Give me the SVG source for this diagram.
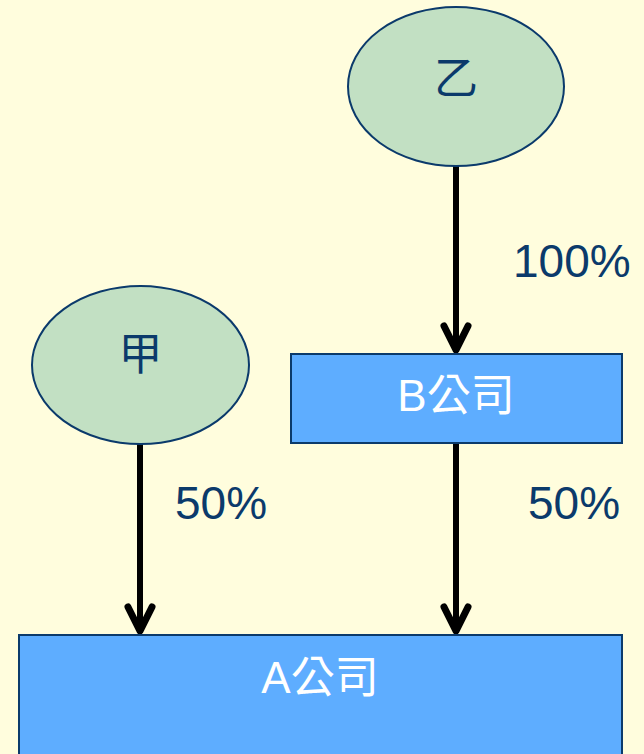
<svg xmlns="http://www.w3.org/2000/svg" width="644" height="754" viewBox="0 0 644 754">
<style>
.ell{fill:#C2E0C3;stroke:#0B3A6B;stroke-width:2}
.box{fill:#5EADFF;stroke:#0B3A6B;stroke-width:2}
.lbl{font-family:"Liberation Sans","Noto Sans CJK TC",sans-serif;font-size:44px;text-anchor:middle}
.dark{fill:#0B3A6B}
.white{fill:#FFFFFF}
.pct{font-family:"Liberation Sans",sans-serif;font-size:46px;fill:#0B3A6B}
.con{stroke:#000;stroke-width:6;fill:none}
</style>
<defs>
<marker id="arr" markerUnits="userSpaceOnUse" markerWidth="50" markerHeight="50" viewBox="-40 -25 50 50" refX="0" refY="0" orient="auto">
<path d="M-26,-12 L-2,0 L-26,12" fill="none" stroke="#000" stroke-width="7" stroke-linecap="round" stroke-linejoin="round"/>
</marker>
</defs>
<rect width="644" height="754" fill="#FFFDDD"/>
<g id="connectors">
<line class="con" x1="456" y1="166" x2="456" y2="352" marker-end="url(#arr)"/>
<line class="con" x1="140" y1="444" x2="140" y2="633" marker-end="url(#arr)"/>
<line class="con" x1="456" y1="443" x2="456" y2="633" marker-end="url(#arr)"/>
</g>
<g id="node-yi">
<ellipse class="ell" cx="456" cy="86.5" rx="108" ry="79.5"/>
<text class="lbl dark" x="456" y="94">乙</text>
</g>
<g id="node-jia">
<ellipse class="ell" cx="140.5" cy="365" rx="108.5" ry="79"/>
<text class="lbl dark" x="140.5" y="370">甲</text>
</g>
<g id="node-b">
<rect class="box" x="291" y="354" width="331" height="89"/>
<text class="lbl white" x="456" y="411">B公司</text>
</g>
<g id="node-a">
<rect class="box" x="19" y="635" width="603" height="130"/>
<text class="lbl white" x="320" y="693">A公司</text>
</g>
<g id="labels">
<text class="pct" x="513" y="277">100%</text>
<text class="pct" x="175" y="519">50%</text>
<text class="pct" x="528" y="519">50%</text>
</g>
</svg>
